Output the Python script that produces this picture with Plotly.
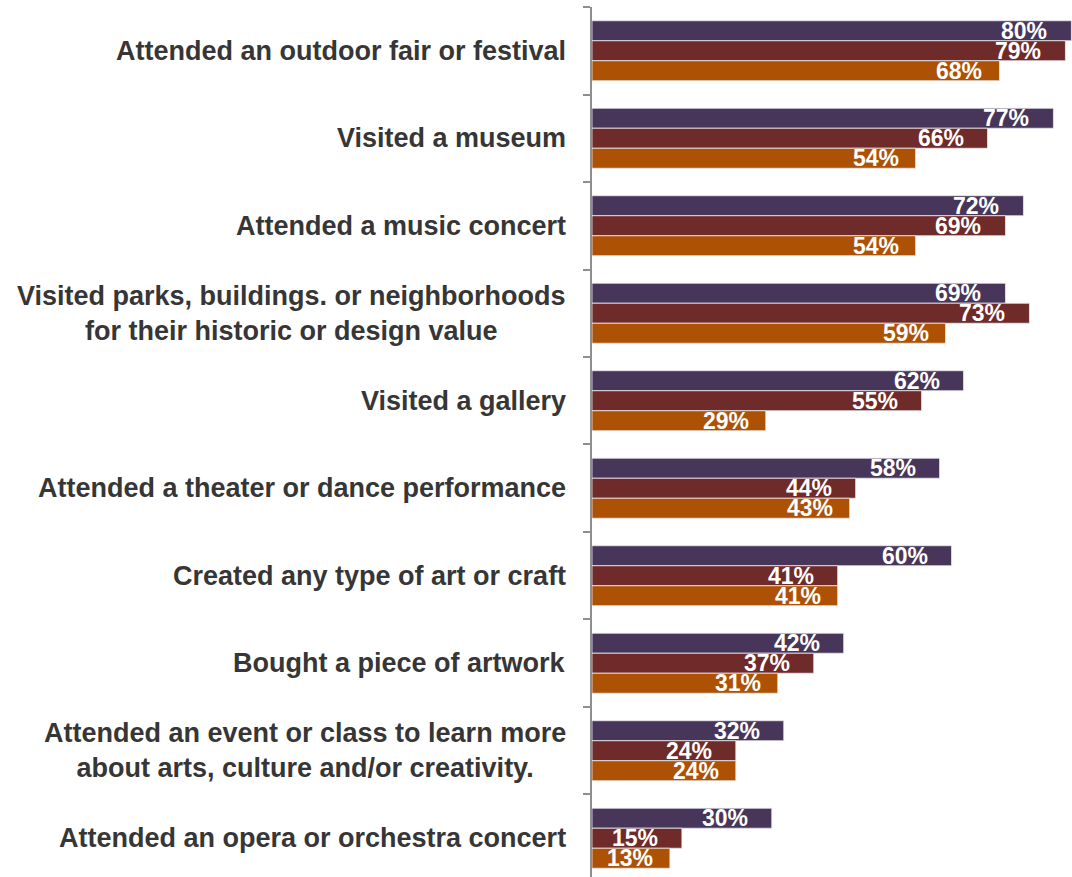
import plotly.graph_objects as go

# Activities, listed top to bottom
categories = [
    "Attended an outdoor fair or festival",
    "Visited a museum",
    "Attended a music concert",
    "Visited parks, buildings. or neighborhoods<br>for their historic or design value",
    "Visited a gallery",
    "Attended a theater or dance performance",
    "Created any type of art or craft",
    "Bought a piece of artwork",
    "Attended an event or class to learn more<br>about arts, culture and/or creativity.",
    "Attended an opera or orchestra concert",
]

series_names = ["Group 1", "Group 2", "Group 3"]
group1 = [80, 77, 72, 69, 62, 58, 60, 42, 32, 30]
group2 = [79, 66, 69, 73, 55, 44, 41, 37, 24, 15]
group3 = [68, 54, 54, 59, 29, 43, 41, 31, 24, 13]
series_values = [group1, group2, group3]

colors = ["#47365a", "#6f2a2a", "#ad5205"]
label_yshift = [20, 0, -20]
label_xshift = [-22, -22, -15]

FONT = "Liberation Sans, Arial, sans-serif"
keys = [f"c{i}" for i in range(len(categories))]

fig = go.Figure()
for name, vals, col in zip(series_names, series_values, colors):
    fig.add_trace(go.Bar(
        y=keys, x=vals, orientation="h", name=name,
        marker=dict(color=col, line=dict(color="rgba(235,235,240,0.8)", width=1)),
        hoverinfo="skip",
    ))

annotations = []
# value labels at the inner end of each bar
for s, vals in enumerate(series_values):
    for k, v in zip(keys, vals):
        annotations.append(dict(
            x=v, y=k, xref="x", yref="y", text=f"{v}%", showarrow=False,
            xanchor="right", yanchor="middle",
            xshift=label_xshift[s], yshift=label_yshift[s],
            font=dict(family=FONT, size=23, color="white", weight="bold"),
        ))

# category labels to the left of the axis; wrapped labels are centred
for k, cat in zip(keys, categories):
    annotations.append(dict(
        x=0, y=k, xref="paper", yref="y", text=cat, showarrow=False,
        xanchor="right", yanchor="middle", align="center", xshift=-24,
        font=dict(family=FONT, size=27, color="#363636", weight="bold"),
    ))

fig.update_layout(
    width=1072, height=877,
    margin=dict(l=592, r=0, t=7, b=0),
    paper_bgcolor="white", plot_bgcolor="white",
    barmode="group", bargap=0.314, bargroupgap=0,
    showlegend=False,
    annotations=annotations,
    xaxis=dict(range=[0, 80.1], visible=False, fixedrange=True),
    yaxis=dict(
        type="category", categoryorder="array", categoryarray=keys,
        range=[9.443, -0.5],
        showticklabels=False, showgrid=False, zeroline=False,
        showline=True, linecolor="#8f8f8f", linewidth=2,
        ticks="outside", tickson="boundaries", ticklen=7,
        tickcolor="#8f8f8f", tickwidth=2,
    ),
)

fig.write_html("out.html")
